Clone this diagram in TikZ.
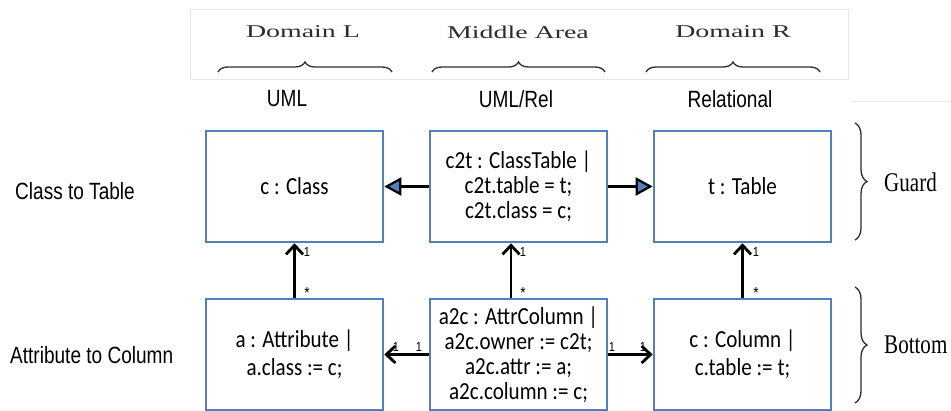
\documentclass[tikz,border=0pt]{standalone}
\usepackage{fontspec}
\usetikzlibrary{arrows.meta,decorations.pathreplacing}
\newfontfamily\boxfont[FakeStretch=0.86]{Carlito}
\newfontfamily\lblfont[FakeStretch=0.81]{Liberation Sans}
\newfontfamily\multfont[FakeStretch=0.85]{Liberation Sans}
\newfontfamily\hdrfont[FakeStretch=1.55]{Liberation Serif}
\newfontfamily\sidefont[FakeStretch=0.78]{Liberation Serif}
\definecolor{boxblue}{RGB}{79,129,189}
\definecolor{bracegray}{RGB}{45,45,45}
\definecolor{framegray}{RGB}{232,232,232}
\begin{document}
\begin{tikzpicture}[x=1pt,y=-1pt,
  umlbox/.style={draw=boxblue,line width=2.6pt,minimum width=177pt,minimum height=111pt,inner sep=0pt,align=center,font=\boxfont\fontsize{24.5}{25}\selectfont},
  twoline/.style={font=\boxfont\fontsize{24.5}{28}\selectfont},
  tri/.style={draw=black,line width=2.8pt,-{Triangle[length=17pt,width=18pt,fill=boxblue,line width=2.2pt]}},
  barb/.style={draw=black,line width=2.8pt,-{Straight Barb[length=9pt,width=17pt]}},
  mult/.style={inner sep=0pt,font=\multfont\fontsize{13}{15}\selectfont},
  star/.style={inner sep=0pt,font=\multfont\fontsize{16}{18}\selectfont},
  rowlbl/.style={inner sep=0pt,anchor=west,font=\lblfont\fontsize{23.5}{26}\selectfont},
  collbl/.style={inner sep=0pt,font=\lblfont\fontsize{23.5}{26}\selectfont},
  hdr/.style={inner sep=0pt,text=bracegray,font=\hdrfont\fontsize{18}{20}\selectfont},
  side/.style={inner sep=0pt,anchor=west,font=\sidefont\fontsize{27}{30}\selectfont},
  bracedec/.style={draw=bracegray,line width=1.3pt,decorate,decoration={brace,amplitude=#1}}
]
\useasboundingbox (0,0) rectangle (951,411);
% header panel
\draw[draw=framegray,line width=1pt,fill=white] (190,10) rectangle (848,80);
\draw[draw=framegray,line width=1pt] (852,102) -- (951,102);
\node[hdr] (hL) at (303,32) {Domain L};
\node[hdr] (hM) at (518,32) {Middle Area};
\node[hdr] (hR) at (733,32) {Domain R};
\draw[bracedec=10pt] (218,72) -- (392,72);
\draw[bracedec=10pt] (432,72) -- (605,72);
\draw[bracedec=10pt] (646,72) -- (820,72);
% column labels
\node[collbl] (cUML) at (287,99) {UML};
\node[collbl] (cUR) at (516,99) {UML/Rel};
\node[collbl] (cRel) at (730,99) {Relational};
% row labels
\node[rowlbl] (rCT) at (15,191) {Class to Table};
\node[rowlbl] (rAC) at (10,355) {Attribute to Column};
% boxes
\node[umlbox] (TL) at (294.5,186.5) {c : Class};
\node[umlbox] (TM) at (518.5,186.5) {c2t : ClassTable |\\c2t.table = t;\\c2t.class = c;};
\node[umlbox] (TR) at (742.5,186.5) {t : Table};
\node[umlbox,twoline] (BL) at (294.5,354.5) {a : Attribute |\\a.class := c;};
\node[umlbox] (BM) at (518.5,354.5) {a2c : AttrColumn |\\a2c.owner := c2t;\\a2c.attr := a;\\a2c.column := c;};
\node[umlbox,twoline] (BR) at (742.5,354.5) {c : Column |\\c.table := t;};
% connectors
\draw[tri] (TM.west) -- (TL.east);
\draw[tri] (TM.east) -- (TR.west);
\draw[barb] (BL.north) -- (TL.south);
\draw[barb] ([xshift=-7.5pt]BM.north) -- ([xshift=-7.5pt]TM.south);
\draw[barb] (BR.north) -- (TR.south);
\draw[barb] (BM.west) -- (BL.east);
\draw[barb] (BM.east) -- (BR.west);
% multiplicities
\node[mult] (m1) at (307,252) {1};
\node[star] (m2) at (307,293) {*};
\node[mult] (m3) at (523,252) {1};
\node[star] (m4) at (523,293) {*};
\node[mult] (m5) at (756,252) {1};
\node[star] (m6) at (756,293) {*};
\node[mult] (m7) at (396,347) {1};
\node[mult] (m8) at (419,347) {1};
\node[mult] (m9) at (612,347) {1};
\node[mult] (m10) at (643,347) {1};
% side braces
\draw[bracedec=12pt] (855,123) -- (855,240);
\draw[bracedec=12pt] (855,287) -- (855,403);
\node[side] (gG) at (884,182) {Guard};
\node[side] (gB) at (884,345) {Bottom};
\end{tikzpicture}
\end{document}
